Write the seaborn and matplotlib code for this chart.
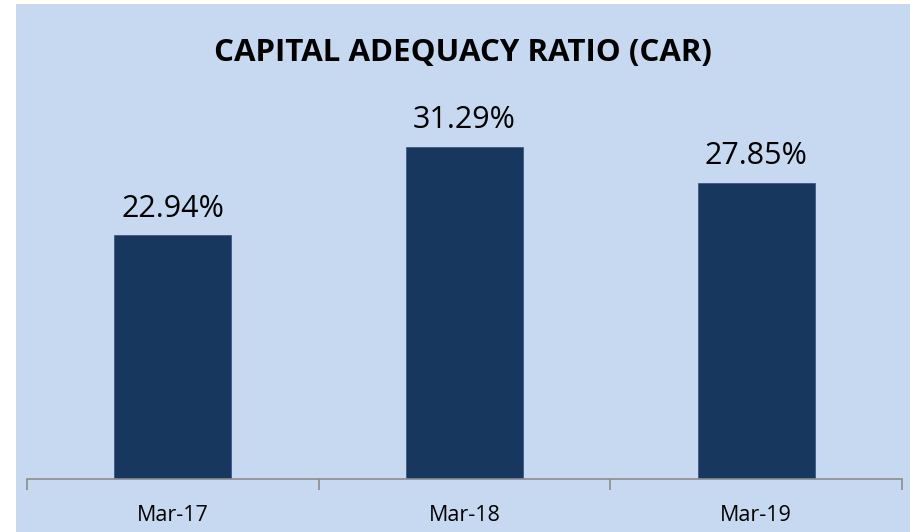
import matplotlib
matplotlib.use('Agg')
import matplotlib.pyplot as plt
from matplotlib.patches import Rectangle
import pandas as pd
import seaborn as sns

# dados do gráfico
periods = ['Mar-17', 'Mar-18', 'Mar-19']
car_values = [22.94, 31.29, 27.85]
title = 'CAPITAL ADEQUACY RATIO (CAR)'

bg_color = '#C6D9F1'
bar_color = '#17375E'
axis_gray = '#8C8C8C'

sns.set_style('white')
plt.rcParams['font.family'] = ['Open Sans', 'DejaVu Sans']

df = pd.DataFrame({'period': periods, 'car': car_values})

fig = plt.figure(figsize=(9.1, 5.32), dpi=100)
fig.patch.set_facecolor('white')
# fundo azul claro do gráfico (deixa uma margem branca à esquerda e no topo)
fig.patches.append(Rectangle((16 / 910, 0), 1 - 16 / 910, 1 - 4 / 532,
                             transform=fig.transFigure, facecolor=bg_color,
                             edgecolor='none', zorder=-10))

ax = fig.add_axes([27 / 910, 53 / 532, 875 / 910, 379 / 532])
ax.patch.set_alpha(0)
ax.set_zorder(5)

sns.barplot(data=df, x='period', y='car', color=bar_color, width=0.4,
            edgecolor='#34507A', linewidth=0.5, saturation=1, ax=ax)

ax.set_xlim(-0.5, 2.5)
ax.set_ylim(0, 379 / 10.62)

# rótulos de valor acima das barras
for i, v in enumerate(car_values):
    ax.annotate('{:.2f}%'.format(v), (i, v), xytext=(0, 13.5),
                textcoords='offset points', ha='center', va='baseline',
                fontsize=22, color='black')

# eixo x: marcas entre categorias, rótulos no centro
ax.set_xticks([-0.5, 0.5, 1.5, 2.5])
ax.set_xticklabels([])
ax.set_xticks([0, 1, 2], minor=True)
ax.set_xticklabels(periods, minor=True)
ax.tick_params(axis='x', which='major', length=8, width=1.2, color=axis_gray,
               direction='out', bottom=True)
ax.tick_params(axis='x', which='minor', length=0, labelsize=15.5, pad=19,
               labelcolor='black')
ax.set_xlabel('')
ax.set_ylabel('')
ax.set_yticks([])

for s in ['top', 'right', 'left']:
    ax.spines[s].set_visible(False)
ax.spines['bottom'].set_color(axis_gray)
ax.spines['bottom'].set_linewidth(1.2)

fig.text(463 / 910, (532 - 61) / 532, title, ha='center', va='baseline',
         fontsize=22.5, fontweight='bold', color='black', zorder=10)

fig.savefig('out.png', dpi=100, facecolor=fig.get_facecolor())
